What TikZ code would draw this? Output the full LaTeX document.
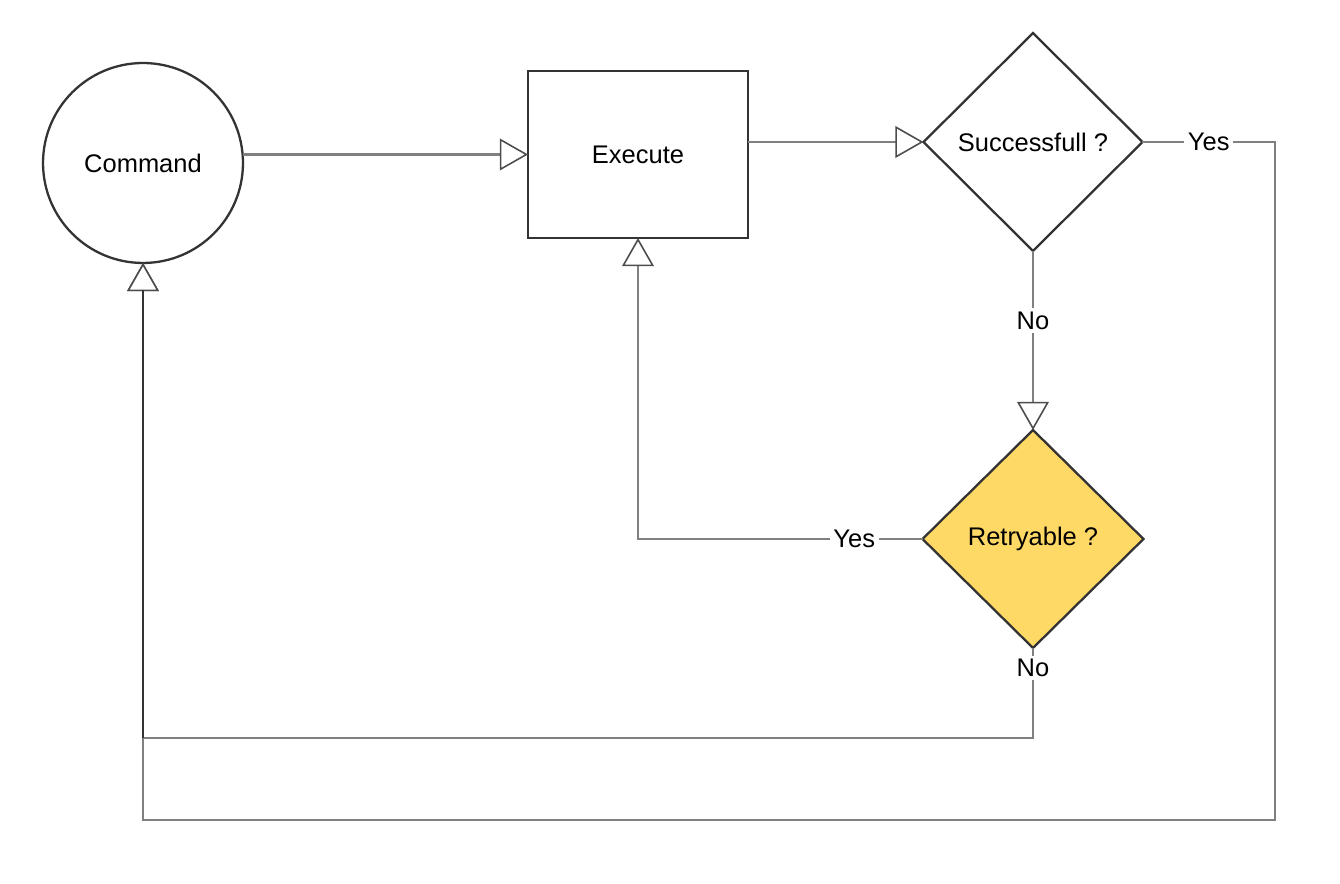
\documentclass[tikz,border=0pt]{standalone}
\usepackage{fontspec}
\setmainfont{Liberation Sans}
\usetikzlibrary{shapes.geometric,arrows.meta}
\definecolor{boxline}{HTML}{333333}
\definecolor{gold}{HTML}{FFD966}
\definecolor{connline}{HTML}{808080}
\definecolor{tipline}{HTML}{4D4D4D}
\tikzset{
  shapebox/.style={draw=boxline, line width=1.3pt, inner sep=0pt, outer sep=0pt, font=\fontsize{14.5}{17}\selectfont},
  conn/.style={draw=connline, line width=1.15pt,
    -{Triangle[open, length=16pt, width=18pt, fill=white, color=tipline, line width=0.9pt]}},
  lab/.style={fill=white, inner sep=2pt, font=\fontsize{14.5}{17}\selectfont}
}
\begin{document}
\begin{tikzpicture}[x=0.02cm, y=-0.02cm]
\useasboundingbox (0,0) rectangle (1340,884);
\node[shapebox, circle, minimum size=4cm] (cmd) at (143,163) {Command};
\node[shapebox, rectangle, minimum width=4.4cm, minimum height=3.34cm] (exec) at (638,154.5) {Execute};
\node[shapebox, diamond, minimum width=4.38cm, minimum height=4.36cm] (succ) at (1033,142) {Successfull ?};
\node[shapebox, diamond, fill=gold, minimum width=4.42cm, minimum height=4.36cm] (retry) at (1033,539) {Retryable ?};
\coordinate (ya) at (1275,142);
\coordinate (yb) at (1275,820);
\coordinate (yc) at (143,820);
\coordinate (na) at (1033,738);
\coordinate (nb) at (143,738);
\coordinate (ra) at (638,539);
% connectors
\draw[conn] (cmd.east |- exec.west) -- (exec.west);
\draw[conn] (exec.east |- succ.west) -- (succ.west);
\draw[conn] (succ.south) -- node[lab, pos=0.39] {No} (retry.north);
\draw[conn] (succ.east) -- node[lab, pos=0.5] {Yes} (ya) -- (yb) -- (yc) -- (cmd.south);
\draw[conn] (retry.west) -- node[lab, pos=0.24] {Yes} (ra) -- (exec.south);
\draw[conn] (retry.south) -- (na) -- (nb) -- (cmd.south);
\draw[draw=boxline, line width=1.15pt] (nb) -- ([yshift=-15.5pt]cmd.south);
\node[lab] (nolab) at (1033,668) {No};
\end{tikzpicture}
\end{document}
